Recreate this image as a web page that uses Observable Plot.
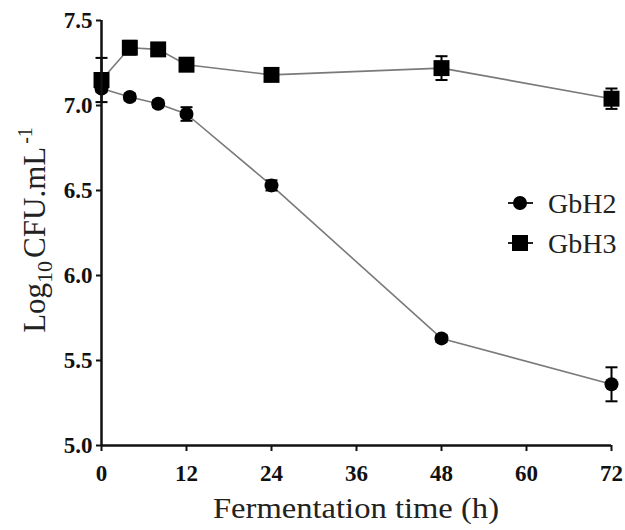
<!DOCTYPE html>
<html>
<head>
<meta charset="utf-8">
<script src="https://cdn.jsdelivr.net/npm/d3@7"></script>
<script src="https://cdn.jsdelivr.net/npm/@observablehq/plot@0.6"></script>
<style>
  html, body { margin: 0; padding: 0; background: #fff; }
  #wrap { position: relative; width: 625px; height: 530px; }
</style>
</head>
<body>
<div id="wrap"></div>
<script>
// ---- data ----
const times = [0, 4, 8, 12, 24, 48, 72];
const gbh2 = [7.10, 7.05, 7.01, 6.95, 6.53, 5.63, 5.36];
const gbh2Err = [0.02, 0.02, 0.02, 0.04, 0.03, 0.02, 0.10];
const gbh3 = [7.15, 7.34, 7.33, 7.24, 7.18, 7.22, 7.04];
const gbh3Err = [0.13, 0.04, 0.03, 0.02, 0.02, 0.07, 0.06];
const seriesNames = ["GbH2", "GbH3"];
const xTicks = [0, 12, 24, 36, 48, 60, 72];
const yTicks = [5.0, 5.5, 6.0, 6.5, 7.0, 7.5];

const rows = [];
times.forEach((t, i) => {
  rows.push({series: "GbH2", t, v: gbh2[i], e: gbh2Err[i]});
  rows.push({series: "GbH3", t, v: gbh3[i], e: gbh3Err[i]});
});
const r2 = rows.filter(d => d.series === "GbH2");
const r3 = rows.filter(d => d.series === "GbH3");

const capSymbol = {
  draw(ctx, size) {
    const w = Math.sqrt(size / Math.PI);
    ctx.moveTo(-w, 0);
    ctx.lineTo(w, 0);
  }
};

const FONT = "Liberation Serif";

const chart = Plot.plot({
  width: 625,
  height: 530,
  marginLeft: 101,
  marginRight: 14,
  marginTop: 20,
  marginBottom: 85,
  style: {fontFamily: FONT, background: "#fff", overflow: "visible"},
  x: {domain: [0, 72]},
  y: {domain: [5, 7.5]},
  marks: [
    Plot.axisX({ticks: xTicks, tickSize: 6, tickPadding: 13, fontSize: 23, fontWeight: "bold", tickFormat: d => String(d), label: null, strokeWidth: 2, color: "#111"}),
    Plot.axisY({ticks: yTicks, tickSize: 5, tickPadding: 4, fontSize: 23, fontWeight: "bold", tickFormat: d3.format(".1f"), label: null, strokeWidth: 2, color: "#111"}),
    Plot.lineY(r2, {x: "t", y: "v", stroke: "#7a7a7a", strokeWidth: 1.6}),
    Plot.lineY(r3, {x: "t", y: "v", stroke: "#7a7a7a", strokeWidth: 1.6}),
    Plot.ruleX(rows, {x: "t", y1: d => d.v - d.e, y2: d => d.v + d.e, stroke: "#000", strokeWidth: 2}),
    Plot.dot(rows, {x: "t", y: d => d.v + d.e, symbol: capSymbol, r: 6, stroke: "#000", strokeWidth: 2, fill: "none"}),
    Plot.dot(rows, {x: "t", y: d => d.v - d.e, symbol: capSymbol, r: 6, stroke: "#000", strokeWidth: 2, fill: "none"}),
    Plot.dot(r2, {x: "t", y: "v", symbol: "circle", r: 7, fill: "#000"}),
    Plot.dot(r3, {x: "t", y: "v", symbol: "square", r: 9, fill: "#000"}),
    Plot.ruleY([5], {stroke: "#111", strokeWidth: 2.5}),
    Plot.ruleX([0], {stroke: "#111", strokeWidth: 2.5})
  ]
});

document.getElementById("wrap").appendChild(chart);

const svg = d3.select(chart);

// x axis title
svg.append("text")
  .attr("x", 356).attr("y", 518)
  .attr("text-anchor", "middle")
  .attr("font-family", FONT)
  .attr("font-size", 29)
  .attr("fill", "#222")
  .attr("textLength", 286)
  .attr("lengthAdjust", "spacingAndGlyphs")
  .text("Fermentation time (h)");

// y axis title with sub/superscripts
const yt = svg.append("text")
  .attr("transform", "translate(45,230) rotate(-90)")
  .attr("text-anchor", "middle")
  .attr("font-family", FONT)
  .attr("font-size", 31)
  .attr("fill", "#222");
yt.append("tspan").text("Log");
yt.append("tspan").attr("font-size", 22).attr("dy", 7).text("10");
yt.append("tspan").attr("dy", -7).attr("dx", 3).text("CFU.mL");
yt.append("tspan").attr("font-size", 20).attr("dy", -13).attr("dx", 3).text("-1");

// legend
const lg = svg.append("g");
seriesNames.forEach((name, i) => {
  const cy = 203 + i * 40;
  lg.append("line").attr("x1", 508).attr("x2", 533).attr("y1", cy).attr("y2", cy)
    .attr("stroke", "#222").attr("stroke-width", 2);
  if (i === 0) {
    lg.append("circle").attr("cx", 520).attr("cy", cy).attr("r", 7).attr("fill", "#000");
  } else {
    lg.append("rect").attr("x", 512).attr("y", cy - 8).attr("width", 16).attr("height", 16).attr("fill", "#000");
  }
  lg.append("text").attr("x", 548).attr("y", cy + 10)
    .attr("text-anchor", "start")
    .attr("font-family", FONT).attr("font-size", 28).attr("fill", "#222")
    .text(name);
});
</script>
</body>
</html>
